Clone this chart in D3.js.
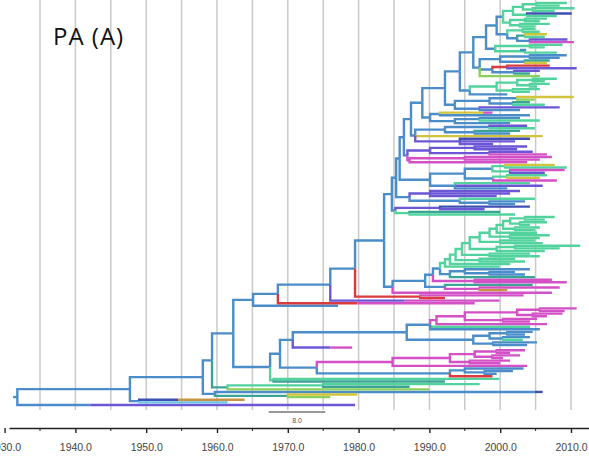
<!DOCTYPE html>
<html>
<head>
<meta charset="utf-8">
<script src="https://cdn.jsdelivr.net/npm/d3@7"></script>
<style>
  body { margin: 0; background: #fff; }
  svg { display: block; }
</style>
</head>
<body>
<div id="chart"></div>
<script>
// clades written newick-style: colour letter + node year, e.g. (g2004.9,g2005.6)g2003.2
// upper ladder, top clade first, then the side clades going down
var G1 = "((((g2009.4,g2008.4)g2005.2,(g2010.5,g2007.7)g2004.6)g2003.2,(d2010.1,g2008.0)g2003.8)g2001.8,((g2006.6,g2005.6)g2003.5,(g2007.0,g2004.9)g2002.8)g2001.4)b2000.4";
var G2 = "((g2004.9,g2005.6)g2003.2,((y2006.6,g2006.3)t2003.5,(p2009.5,m2010.4)b2004.2)b2002.4)b2001.0";
var G3 = "((g2008.8,g2006.3)g2004.2,(b2002.8,g2008.0)g2003.5)b1999.3";
var G4 = "(((b2009.4,b2008.4)b2004.2,(t2007.0,y2006.6)b2003.5)b2000.0,((r2007.0,p2010.8)r2001.0,(p2005.6,t2004.2)b2002.0)b1998.9,l2005.6)b1997.1";
var G5 = "((((g2008.0,g2006.3)g2004.6,(g2007.0,g2005.2)g2004.2)g2002.4,(g2005.6,g2004.2)g2001.8)g1999.5,b2001.0)b1995.7";
var G6 = "(((y2010.4,l2004.9)b2002.4,(t2004.2,g2006.3)b2001.8)b1998.5,(p2008.4,b2002.8)b1997.1)b1993.6";
var G7 = "(((m1998.9)y1997.6,b2004.2)b1991.5,((b2002.8,g2005.6)b1997.1,b2001.4)b1993.6)b1990.1";
var G8 = "(((p2003.8,g2004.9)b1998.5,(t2002.8,b2001.4)b1996.4)b1992.2,y2006.0,(d2004.2,p2002.1,p1999.0)p1994.3)b1988.0";
var G9 = "(((p2003.8,p2002.4)p1996.4,(p2004.6,m2006.6)p1998.5)p1990.1,((m2007.3,m2005.6)m1995.0,m2003.8)m1987.2)b1986.9";
var G10 = "((((y2007.7,g2009.4)g2000.7,(m2009.1,p2006.3)g2001.4)b1998.9,((g2006.6,y2005.6)g2001.0,m2008.0)b1999.0)b1995.0,(g2004.2,p2006.0,b2001.0)b1993.6)b1990.1";
var G11 = "((p2002.8,p2001.4,p1999.5)p1990.1,(g2004.9,(b2003.5,b2002.1)b1998.5)b1994.3)b1987.2";
var G12 = "((d2004.2,p1997.8)p1991.5,(t2000.0,g2002.1)g1987.2)b1985.2";
var upperSides = [G2, G3, G4, G5, G6, G7, G8, G9, G10, G11, G12];
var upperYears = [1999.5, 1998.0, 1996.2, 1994.3, 1992.2, 1989.0, 1987.4, 1986.4, 1985.8, 1985.3, 1984.7];

// big green clade
var greenTop = "((g2007.7,g2006.3)g2003.5,(g2006.6,g2004.2)g2002.8)g2001.4";
var greenSides = ["(g2005.6,g2004.9)g2002.1", "g2005.2", "(g2007.0,g2005.6)g2001.4", "(g2004.9,g2006.0)g2000.0",
  "((g2011.3,g2008.4)g2002.1,g2006.3)g1999.5", "(g2004.2,g2005.6)g1998.5", "(g2002.1,g2003.5)g1997.1", "g2001.4", "g1999.9"];
var greenYears = [2000.4, 1999.5, 1998.5, 1997.1, 1995.7, 1994.6, 1993.7, 1992.9, 1992.2];

// under the green clade
var midSides = ["((b2004.2,(b2002.1,b2003.5)b1998.5)b1995.0,t2004.9)b1992.9", "(m2007.3,m2009.4)m1996.4",
  "(t2004.6,(m2008.4,o2001.0)m1997.1)b1992.2", "m2007.3"];
var midYears = [1991.5, 1990.5, 1989.4, 1984.8];

// lower half
var MC = "((((m2010.8,m2009.1)m2005.6,(m2008.8,m2006.6)m2004.6)m2002.4,(m2005.2,m2004.2)m2000.4)m1995.0,m2006.6)m1991.0";
var BC = "(((b2004.6,b2003.5)b2001.0,(b2004.2,g2003.2)b2000.4)b1998.5,(b2005.2,b2003.8)b1999.0)b1996.2";
var MGC = "((((m2003.5,m2001.4)m1999.5,(m2002.8,m2000.4)m1998.9)m1996.4,(m2001.4,m2000.0)m1995.7)m1992.9,m2003.8)m1984.8";
var BLG = "((b2003.3,(b2001.8,b1999.5)b1997.8)b1995.0,r1998.9)b1992.9";
var N14 = "((" + MC + ",g2004.2,b2005.6)b1990.1," + BC + ")b1986.8";
var N12 = "(" + N14 + ",(m1979.1)p1976.0)b1970.7";
var N13 = "(" + MGC + "," + BLG + ")b1974.1";
var N6 = "((" + N12 + "," + N13 + ")b1968.9,(g1999.9,t1992.2)g1968.0)b1967.5";

var spineSides = ["(m2003.3,r1992.2)r1988.7", "(m1999.9)p1986.5", "(m1996.4)r1979.8", "b1977.1", N6,
  "((g1997.1,t1987.2)g1975.0,l1990.0)t1961.5", "((d2006.0)b2004.9,(y1979.8,l1976.0)t1970.0)b1959.7",
  "((o1963.9)d1954.5,c1961.5)b1949.0", "(p1979.5)b1942.1"];
var spineYears = [1983.6, 1979.5, 1976.0, 1968.6, 1965.1, 1962.3, 1959.3, 1958.0, 1947.7, 1931.8];

var tickYears = [1930, 1940, 1950, 1960, 1970, 1980, 1990, 2000, 2010];
var gridYears = [1935, 1940, 1945, 1950, 1955, 1960, 1965, 1970, 1975, 1980, 1985, 1990, 1995, 2000, 2005, 2010];

var palette = {b: "#4b8dc9", g: "#52d39d", m: "#d350c6", p: "#6c56d6", y: "#cfc43c", r: "#dc3b3e",
  t: "#3aa596", l: "#8bd05c", o: "#c79443", c: "#6cc3e6", d: "#3f4fb4"};

function ladder(top, sides, years, col) {
    var t = top;
    sides.forEach(function(s, i) { t = "(" + t + "," + s + ")" + col + years[i]; });
    return t;
}

function parse(s) {
    var i = 0;
    function node() {
        var n = {children: []};
        if (s[i] === "(") {
            i++;
            n.children.push(node());
            while (s[i] === ",") { i++; n.children.push(node()); }
            i++; // ")"
        }
        var m = /^([a-z])(\d+(?:\.\d+)?)/.exec(s.slice(i));
        n.col = m[1];
        n.year = +m[2];
        i += m[0].length;
        return n;
    }
    return node();
}

var green = ladder(greenTop, greenSides, greenYears, "g");
var mid = ladder(green, midSides, midYears, "b");
var upper = ladder(G1, upperSides, upperYears, "b");
var spine = ladder(upper, [mid].concat(spineSides), spineYears, "b");

var root = d3.hierarchy(parse(spine), function(d) { return d.children.length ? d.children : null; });

const width = 589, height = 462;

var svg = d3.select("#chart").append("svg")
    .attr("width", width)
    .attr("height", height);

var x = d3.scaleLinear().domain([1930, 2010]).range([4.6, 571]);
var leaves = root.leaves();
var y = d3.scaleLinear().domain([0, leaves.length - 1]).range([3, 405]);

leaves.forEach(function(d, i) { d.py = y(i); });
root.eachAfter(function(d) {
    if (d.children) d.py = (d.children[0].py + d.children[d.children.length - 1].py) / 2;
});

// grid
svg.append("g")
    .selectAll("line")
    .data(gridYears)
    .enter()
    .append("line")
    .attr("x1", d => x(d))
    .attr("x2", d => x(d))
    .attr("y1", 0)
    .attr("y2", 410)
    .attr("stroke", "#c9c9c9")
    .attr("stroke-width", 1.5);

// branches
var tree = svg.append("g")
    .attr("fill", "none")
    .attr("stroke-width", 2.4)
    .attr("stroke-linejoin", "miter");

tree.append("path")
    .attr("d", "M" + x(1931.2) + "," + root.py + "H" + x(root.data.year))
    .attr("stroke", palette.b);

tree.selectAll("path.branch")
    .data(root.descendants().slice(1))
    .enter()
    .append("path")
    .attr("class", "branch")
    .attr("d", d => "M" + x(d.parent.data.year) + "," + d.parent.py + "V" + d.py + "H" + x(d.data.year))
    .attr("stroke", d => palette[d.data.col]);

// scale bar
svg.append("line")
    .attr("x1", x(1967.3)).attr("x2", x(1975.3))
    .attr("y1", 412).attr("y2", 412)
    .attr("stroke", "#333").attr("stroke-width", 1);
svg.append("text")
    .attr("x", (x(1967.3) + x(1975.3)) / 2).attr("y", 423)
    .attr("text-anchor", "middle")
    .style("font", "7px 'Liberation Sans', Arial, sans-serif")
    .attr("fill", "#555")
    .text("8.0");

// axis
var axisScale = x.copy().domain([x.invert(9), x.invert(589)]).range([9, 589]);
var axis = svg.append("g")
    .attr("transform", "translate(0,428)")
    .call(d3.axisBottom(axisScale).tickValues(tickYears).tickFormat(d3.format(".1f")).tickSize(5).tickPadding(11).tickSizeOuter(0));
axis.select(".domain").attr("stroke", "#222").attr("stroke-width", 1.6);
axis.selectAll(".tick line").attr("stroke", "#222").attr("stroke-width", 1.4);
axis.selectAll(".tick text")
    .style("font", "10.5px 'Liberation Sans', Arial, sans-serif")
    .attr("fill", "#444");
axis.selectAll("line.minor")
    .data(gridYears.filter(d => d % 10 === 5))
    .enter()
    .append("line")
    .attr("class", "minor")
    .attr("x1", d => x(d)).attr("x2", d => x(d))
    .attr("y1", 0).attr("y2", 3)
    .attr("stroke", "#222");

// title
svg.append("text")
    .attr("x", 53)
    .attr("y", 45)
    .style("font", "24px 'Open Sans', sans-serif")
    .style("letter-spacing", "1px")
    .attr("fill", "#111")
    .text("PA (A)");
</script>
</body>
</html>
